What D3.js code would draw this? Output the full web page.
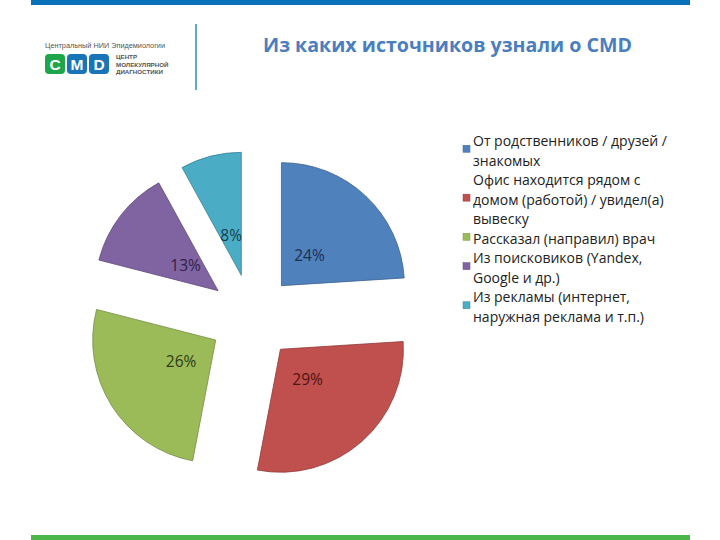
<!DOCTYPE html>
<html>
<head>
<meta charset="utf-8">
<script src="https://cdn.jsdelivr.net/npm/d3@7"></script>
<style>
  html, body { margin: 0; padding: 0; background: #fff; }
  svg { display: block; }
</style>
</head>
<body>
<svg id="chart" width="720" height="540"></svg>
<script>
// ---- data ----
const titleText = "Из каких источников узнали о CMD";
const categoryLines = [
  ["От родственников / друзей /", "знакомых"],
  ["Офис находится рядом с", "домом (работой) / увидел(а)", "вывеску"],
  ["Рассказал (направил) врач"],
  ["Из поисковиков (Yandex,", "Google и др.)"],
  ["Из рекламы (интернет,", "наружная реклама и т.п.)"]
];
const categories = categoryLines.map(l => l.join(" "));
const values = [24, 29, 26, 13, 8];
const valueLabels = ["24%", "29%", "26%", "13%", "8%"];
const colors = ["#4F81BD", "#C0504D", "#9BBB59", "#8064A2", "#4BACC6"];
const labelColors = ["#1c2f4f", "#4e1412", "#2e3c14", "#2f2147", "#163f4d"];
const logoTop = "Центральный НИИ Эпидемиологии";
const logoLetters = ["C", "M", "D"];
const logoSub = ["ЦЕНТР", "МОЛЕКУЛЯРНОЙ", "ДИАГНОСТИКИ"];

const svg = d3.select("#chart");

// ---- frame bars ----
svg.append("rect").attr("x", 31).attr("y", 0).attr("width", 659).attr("height", 5).attr("fill", "#0a70b8");
svg.append("rect").attr("x", 31).attr("y", 535).attr("width", 659).attr("height", 5).attr("fill", "#4cb748");

// ---- logo ----
const logo = svg.append("g");
logo.append("text").attr("x", 45).attr("y", 48).attr("font-family", "Liberation Sans, Arial, sans-serif")
  .attr("font-size", 8).attr("fill", "#555").text(logoTop)
  .attr("textLength", 120).attr("lengthAdjust", "spacingAndGlyphs");
const logoColors = ["#1ea64b", "#1a74b8", "#1a74b8"];
logoLetters.forEach((t, i) => {
  const x = 45 + i * 22;
  logo.append("rect").attr("x", x).attr("y", 54).attr("width", 20).attr("height", 20).attr("rx", 4)
    .attr("fill", logoColors[i]);
  logo.append("text").attr("x", x + 10).attr("y", 69.5).attr("text-anchor", "middle")
    .attr("font-family", "Liberation Sans, Arial, sans-serif").attr("font-weight", "bold")
    .attr("font-size", 15.5).attr("fill", "#fff").text(t);
});
logoSub.forEach((t, i) => {
  logo.append("text").attr("x", 116).attr("y", 59 + i * 7.5)
    .attr("font-family", "Liberation Sans, Arial, sans-serif").attr("font-weight", "bold")
    .attr("font-size", 6.2).attr("fill", "#555").text(t);
});
svg.append("line").attr("x1", 196).attr("x2", 196).attr("y1", 24).attr("y2", 90)
  .attr("stroke", "#2a8ab0").attr("stroke-width", 1.5);

// ---- title ----
svg.append("text").attr("x", 263).attr("y", 52)
  .attr("font-family", "Open Sans, Liberation Sans, Arial, sans-serif").attr("font-weight", "bold")
  .attr("font-size", 19.5).attr("fill", "#4a7ebf").text(titleText)
  .attr("textLength", 369).attr("lengthAdjust", "spacingAndGlyphs");

// ---- pie ----
const cx = 252, cy = 317, R = 123, explode = 43;
const pie = d3.pie().sort(null).value(d => d).startAngle(0).endAngle(2 * Math.PI);
const arcs = pie(values);
const arc = d3.arc().innerRadius(0).outerRadius(R);
const pieG = svg.append("g").attr("transform", `translate(${cx},${cy})`);
const sl = pieG.selectAll("g.slice").data(arcs).enter().append("g").attr("class", "slice")
  .attr("transform", d => {
    const a = (d.startAngle + d.endAngle) / 2;
    return `translate(${explode * Math.sin(a)},${-explode * Math.cos(a)})`;
  });
sl.append("path").attr("d", arc).attr("fill", (d, i) => colors[i])
  .attr("stroke", (d, i) => d3.color(colors[i]).darker(0.8)).attr("stroke-width", 0.8);
sl.append("text")
  .attr("x", d => { const a = (d.startAngle + d.endAngle) / 2; return 41 * Math.sin(a); })
  .attr("y", d => { const a = (d.startAngle + d.endAngle) / 2; return -41 * Math.cos(a); })
  .attr("dy", "0.35em").attr("text-anchor", "middle")
  .attr("font-family", "Open Sans, Liberation Sans, Arial, sans-serif").attr("font-size", 15.5)
  .attr("fill", (d, i) => labelColors[i]).text((d, i) => valueLabels[i]);

// ---- legend ----
const lineH = 19.56, firstBase = 146, lx = 473;
const leg = svg.append("g");
let lineIdx = 0;
categoryLines.forEach((lines, i) => {
  const start = lineIdx;
  lines.forEach((t) => {
    leg.append("text").attr("x", lx).attr("y", firstBase + lineIdx * lineH)
      .attr("font-family", "Open Sans, Liberation Sans, Arial, sans-serif").attr("font-size", 14)
      .attr("fill", "#222").text(t);
    lineIdx++;
  });
  const midCenter = firstBase - 5 + ((start + lineIdx - 1) / 2) * lineH - 2;
  leg.append("rect").attr("x", 463).attr("y", midCenter - 3.5).attr("width", 7).attr("height", 7)
    .attr("fill", colors[i]).attr("stroke", d3.color(colors[i]).darker(0.6)).attr("stroke-width", 0.5);
});
</script>
</body>
</html>
